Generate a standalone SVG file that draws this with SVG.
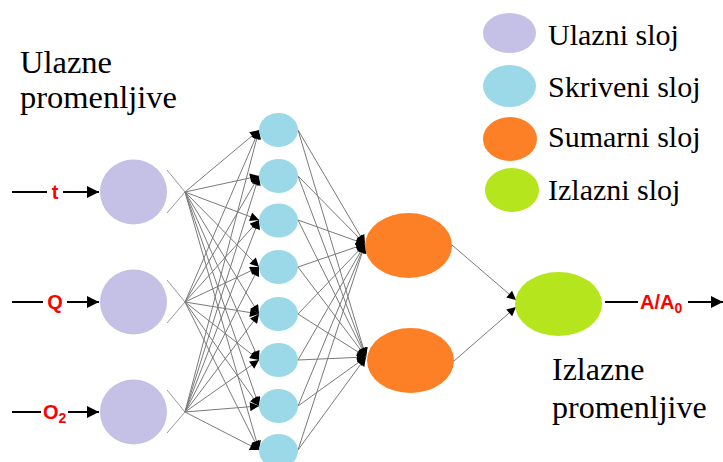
<svg xmlns="http://www.w3.org/2000/svg" width="723" height="462" viewBox="0 0 723 462">
<style>
.lbl{font-family:"Liberation Serif","Times New Roman",serif;fill:#000}
.var{font-family:"Liberation Sans",Arial,sans-serif;font-weight:bold;fill:#FF0000;font-size:20px}
.in{fill:#C5C0E6}
.hid{fill:#9BD9E9}
.sum{fill:#FE8026}
.out{fill:#B5E51D}
.c{stroke:#7a7a7a;stroke-width:1;fill:none;marker-end:url(#ah)}
.x{stroke:#999;stroke-width:1;fill:none}
.io{stroke:#000;stroke-width:2;fill:none;marker-end:url(#big)}
</style>
<defs>
<marker id="ah" viewBox="0 0 10 10" refX="10" refY="5" markerWidth="10" markerHeight="9" markerUnits="userSpaceOnUse" orient="auto">
<path d="M0,0 L10,5 L0,10 Z" fill="#000"/>
</marker>
<marker id="big" viewBox="0 0 10 10" refX="10" refY="5" markerWidth="14" markerHeight="12" markerUnits="userSpaceOnUse" orient="auto">
<path d="M0,0 L10,5 L0,10 Z" fill="#000"/>
</marker>
</defs>
<rect width="723" height="462" fill="#fff"/>

<g id="connectors">
<path class="x" d="M167,170 L185,192 M167,213 L185,192"/>
<path class="x" d="M167,280 L185,302 M167,323 L185,302"/>
<path class="x" d="M167,390 L185,412 M167,433 L185,412"/>
<path class="c" d="M185,192 L259,130"/><path class="c" d="M185,192 L259,176"/><path class="c" d="M185,192 L259,220"/><path class="c" d="M185,192 L259,267"/>
<path class="c" d="M185,192 L259,314"/><path class="c" d="M185,192 L259,360"/><path class="c" d="M185,192 L259,406"/><path class="c" d="M185,192 L259,450"/>
<path class="c" d="M185,302 L259,130"/><path class="c" d="M185,302 L259,176"/><path class="c" d="M185,302 L259,220"/><path class="c" d="M185,302 L259,267"/>
<path class="c" d="M185,302 L259,314"/><path class="c" d="M185,302 L259,360"/><path class="c" d="M185,302 L259,406"/><path class="c" d="M185,302 L259,450"/>
<path class="c" d="M185,412 L259,130"/><path class="c" d="M185,412 L259,176"/><path class="c" d="M185,412 L259,220"/><path class="c" d="M185,412 L259,267"/>
<path class="c" d="M185,412 L259,314"/><path class="c" d="M185,412 L259,360"/><path class="c" d="M185,412 L259,406"/><path class="c" d="M185,412 L259,450"/>
<path class="c" d="M298,130 L365,244"/><path class="c" d="M298,176 L365,244"/><path class="c" d="M298,220 L365,244"/><path class="c" d="M298,267 L365,244"/>
<path class="c" d="M298,314 L365,244"/><path class="c" d="M298,360 L365,244"/><path class="c" d="M298,406 L365,244"/><path class="c" d="M298,450 L365,244"/>
<path class="c" d="M298,130 L366,357"/><path class="c" d="M298,176 L366,357"/><path class="c" d="M298,220 L366,357"/><path class="c" d="M298,267 L366,357"/>
<path class="c" d="M298,314 L366,357"/><path class="c" d="M298,360 L366,357"/><path class="c" d="M298,406 L366,357"/><path class="c" d="M298,450 L366,357"/>
<path class="c" d="M452,245 L516,300"/>
<path class="c" d="M454,361 L516,307"/>
<path class="io" d="M12,192 L99,192"/>
<path class="io" d="M12,302 L99,302"/>
<path class="io" d="M12,412 L99,412"/>
<path class="io" d="M605,302 L723,302"/>
</g>

<g id="labels-vars">
<rect x="47" y="182" width="16" height="20" fill="#fff"/>
<text class="var" x="55" y="199" text-anchor="middle" font-size="21">t</text>
<rect x="43" y="292" width="24" height="20" fill="#fff"/>
<text class="var" x="55" y="309" text-anchor="middle" font-size="21">Q</text>
<rect x="41" y="402" width="27" height="20" fill="#fff"/>
<text class="var" x="43" y="419">O<tspan font-size="14" dy="4">2</tspan></text>
<rect x="638" y="292" width="50" height="20" fill="#fff"/>
<text class="var" x="640" y="309">A/A<tspan font-size="14" dy="4">0</tspan></text>
</g>

<g id="input-t"><ellipse class="in" cx="133.5" cy="192" rx="33.5" ry="32.5"/></g>
<g id="input-Q"><ellipse class="in" cx="133.5" cy="302" rx="33.5" ry="32.5"/></g>
<g id="input-O2"><ellipse class="in" cx="133.5" cy="412" rx="33.5" ry="32.5"/></g>

<g id="hidden-1"><ellipse class="hid" cx="278.5" cy="130" rx="19.5" ry="17"/></g>
<g id="hidden-2"><ellipse class="hid" cx="278.5" cy="176" rx="19.5" ry="17"/></g>
<g id="hidden-3"><ellipse class="hid" cx="278.5" cy="220.5" rx="19.5" ry="17"/></g>
<g id="hidden-4"><ellipse class="hid" cx="278.5" cy="267" rx="19.5" ry="17"/></g>
<g id="hidden-5"><ellipse class="hid" cx="278.5" cy="314" rx="19.5" ry="17"/></g>
<g id="hidden-6"><ellipse class="hid" cx="278.5" cy="360" rx="19.5" ry="17"/></g>
<g id="hidden-7"><ellipse class="hid" cx="278.5" cy="406" rx="19.5" ry="17"/></g>
<g id="hidden-8"><ellipse class="hid" cx="278.5" cy="451" rx="19.5" ry="17"/></g>

<g id="sum-1"><ellipse class="sum" cx="408.5" cy="245.5" rx="43.5" ry="32.5"/></g>
<g id="sum-2"><ellipse class="sum" cx="410.5" cy="360.5" rx="43.5" ry="32.5"/></g>

<g id="output"><ellipse class="out" cx="558.5" cy="304" rx="43.5" ry="32"/></g>

<g id="legend">
<ellipse class="in" cx="509.5" cy="33" rx="26.5" ry="20"/>
<ellipse class="hid" cx="509.5" cy="86" rx="26.5" ry="21"/>
<ellipse class="sum" cx="510" cy="139" rx="27" ry="22"/>
<ellipse class="out" cx="512" cy="190" rx="27" ry="22"/>
<text class="lbl" x="548" y="45" font-size="30">Ulazni sloj</text>
<text class="lbl" x="548" y="97" font-size="30">Skriveni sloj</text>
<text class="lbl" x="548" y="147" font-size="30">Sumarni sloj</text>
<text class="lbl" x="548" y="200" font-size="30">Izlazni sloj</text>
</g>

<g id="title-inputs">
<text class="lbl" x="20" y="73" font-size="32.5">Ulazne</text>
<text class="lbl" x="20" y="108" font-size="32.5">promenljive</text>
</g>
<g id="title-outputs">
<text class="lbl" x="552" y="380" font-size="32">Izlazne</text>
<text class="lbl" x="552" y="418" font-size="32">promenljive</text>
</g>
</svg>
